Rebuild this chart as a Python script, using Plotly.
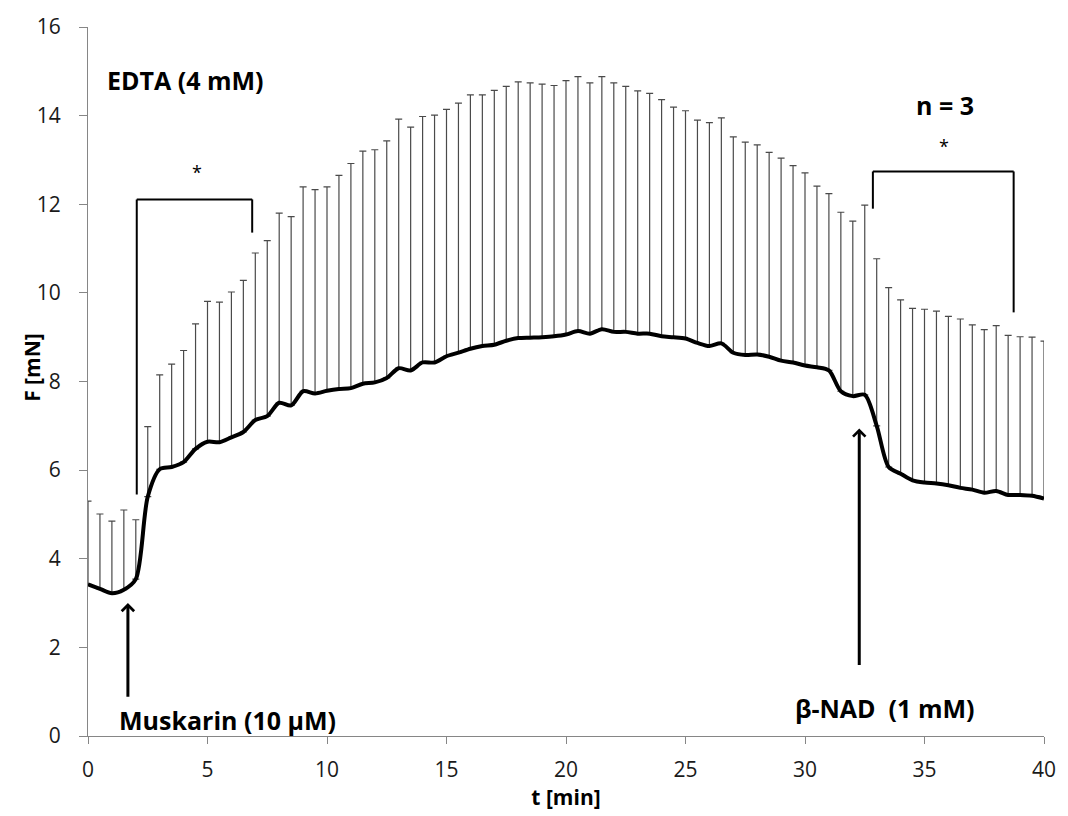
import plotly.graph_objects as go

# Sampling times [min]
t_min = [0, 0.5, 1, 1.5, 2, 2.5, 3, 3.5, 4, 4.5, 5, 5.5, 6, 6.5, 7, 7.5, 8, 8.5, 9, 9.5,
         10, 10.5, 11, 11.5, 12, 12.5, 13, 13.5, 14, 14.5, 15, 15.5, 16, 16.5, 17, 17.5, 18, 18.5, 19, 19.5,
         20, 20.5, 21, 21.5, 22, 22.5, 23, 23.5, 24, 24.5, 25, 25.5, 26, 26.5, 27, 27.5, 28, 28.5, 29, 29.5,
         30, 30.5, 31, 31.5, 32, 32.5, 33, 33.5, 34, 34.5, 35, 35.5, 36, 36.5, 37, 37.5, 38, 38.5, 39, 39.5, 40]

# Mean force [mN]
force_mean = [3.42, 3.32, 3.22, 3.30, 3.54, 5.40, 6.02, 6.07, 6.18, 6.48,
              6.64, 6.63, 6.74, 6.86, 7.13, 7.22, 7.52, 7.46, 7.78, 7.73,
              7.79, 7.83, 7.85, 7.95, 7.98, 8.08, 8.30, 8.25, 8.43, 8.43,
              8.57, 8.65, 8.74, 8.80, 8.83, 8.92, 8.98, 8.99, 9.00, 9.02,
              9.06, 9.14, 9.08, 9.18, 9.12, 9.12, 9.08, 9.08, 9.02, 9.00,
              8.97, 8.87, 8.80, 8.86, 8.65, 8.60, 8.61, 8.56, 8.47, 8.43,
              8.36, 8.32, 8.25, 7.78, 7.67, 7.70, 7.00, 6.07, 5.92, 5.77,
              5.72, 5.70, 5.66, 5.60, 5.56, 5.49, 5.53, 5.44, 5.44, 5.42, 5.36]

# Standard deviation [mN] (shown as upper error bars)
force_sd = [1.88, 1.69, 1.63, 1.80, 1.34, 1.58, 2.13, 2.32, 2.52, 2.82,
            3.17, 3.16, 3.28, 3.42, 3.77, 3.96, 4.28, 4.26, 4.61, 4.60,
            4.60, 4.82, 5.07, 5.25, 5.25, 5.35, 5.62, 5.49, 5.55, 5.58,
            5.57, 5.63, 5.73, 5.67, 5.74, 5.74, 5.78, 5.75, 5.71, 5.66,
            5.73, 5.74, 5.66, 5.70, 5.62, 5.54, 5.48, 5.42, 5.34, 5.19,
            5.14, 5.03, 5.04, 5.09, 4.87, 4.80, 4.73, 4.61, 4.57, 4.44,
            4.35, 4.09, 3.99, 4.04, 3.95, 4.28, 3.77, 4.05, 3.92, 3.88,
            3.91, 3.89, 3.81, 3.81, 3.72, 3.68, 3.73, 3.60, 3.57, 3.58, 3.55]

x_ticks = [0, 5, 10, 15, 20, 25, 30, 35, 40]
y_ticks = [0, 2, 4, 6, 8, 10, 12, 14, 16]

# Significance brackets: (left x, right x, top y, left foot y, right foot y)
brackets = [(2.04, 6.87, 12.11, 5.45, 11.36),
            (32.84, 38.73, 12.74, 11.90, 9.56)]
star_pos = [(4.54, 12.72), (35.82, 13.31)]

# Application arrows: (x, tail y, head y)
arrows = [(1.67, 0.85, 3.0), (32.27, 1.57, 6.94)]

FONT = "Open Sans"
AXIS_GREY = "#868686"

fig = go.Figure()

fig.add_trace(go.Scatter(
    x=t_min, y=force_mean,
    mode="lines",
    line=dict(color="black", width=4, shape="spline", smoothing=0.8),
    error_y=dict(type="data", symmetric=False, array=force_sd,
                 arrayminus=[0] * len(force_sd),
                 color="#4a4a4a", thickness=1.2, width=3.5),
    cliponaxis=False,
    hoverinfo="skip",
))

shapes = []
for xl, xr, ytop, yl, yr in brackets:
    for x0, y0, x1, y1 in [(xl, yl, xl, ytop), (xl, ytop, xr, ytop), (xr, ytop, xr, yr)]:
        shapes.append(dict(type="line", xref="x", yref="y", x0=x0, y0=y0, x1=x1, y1=y1,
                           line=dict(color="black", width=2)))

annotations = []
for xs, ys in star_pos:
    annotations.append(dict(x=xs, y=ys, xref="x", yref="y", text="*", showarrow=False,
                            font=dict(family=FONT, size=18, color="black")))

for xa, y_tail, y_head in arrows:
    annotations.append(dict(x=xa, y=y_head, ax=xa, ay=y_tail, xref="x", yref="y",
                            axref="x", ayref="y", text="", showarrow=True,
                            arrowhead=4, arrowsize=0.8, arrowwidth=3, arrowcolor="black",
                            standoff=0, startstandoff=0))

labels = [
    ("<b>EDTA (4 mM)</b>", 0.70, 14.81, "left"),
    ("<b>n = 3</b>", 35.86, 14.25, "center"),
    ("<b>Muskarin (10 µM)</b>", 1.20, 0.35, "left"),
    ("<b>β-NAD \u00a0(1 mM)</b>", 29.51, 0.64, "left"),
]
for txt, xl, yl, anchor in labels:
    annotations.append(dict(x=xl, y=yl, xref="x", yref="y", text=txt, showarrow=False,
                            xanchor=anchor, yanchor="middle",
                            font=dict(family=FONT, size=25, color="black")))

# y-axis title placed beside the tick labels
annotations.append(dict(x=-0.058, y=0.52, xref="paper", yref="paper", text="<b>F [mN]</b>",
                        textangle=-90, showarrow=False, xanchor="center", yanchor="middle",
                        font=dict(family=FONT, size=21, color="black")))

fig.update_layout(
    width=1068, height=816,
    margin=dict(l=88, r=14, t=20, b=79),
    paper_bgcolor="white", plot_bgcolor="white",
    showlegend=False,
    font=dict(family=FONT, color="black"),
    shapes=shapes,
    annotations=annotations,
    xaxis=dict(
        range=[0, 40], tickvals=x_ticks, ticktext=[str(v) for v in x_ticks],
        showline=True, linecolor=AXIS_GREY, linewidth=1,
        ticks="outside", ticklen=7, tickcolor=AXIS_GREY,
        showgrid=False, zeroline=False,
        ticklabelstandoff=8,
        tickfont=dict(family=FONT, size=21, color="#1a1a1a"),
        title=dict(text="<b>t [min]</b>", font=dict(family=FONT, size=21, color="black"), standoff=6),
    ),
    yaxis=dict(
        range=[0, 16], tickvals=y_ticks, ticktext=[str(v) for v in y_ticks],
        showline=True, linecolor=AXIS_GREY, linewidth=1,
        ticks="outside", ticklen=8, tickcolor=AXIS_GREY,
        showgrid=False, zeroline=False,
        ticklabelstandoff=14,
        tickfont=dict(family=FONT, size=21, color="#1a1a1a"),
    ),
)

fig.write_html("out.html")
